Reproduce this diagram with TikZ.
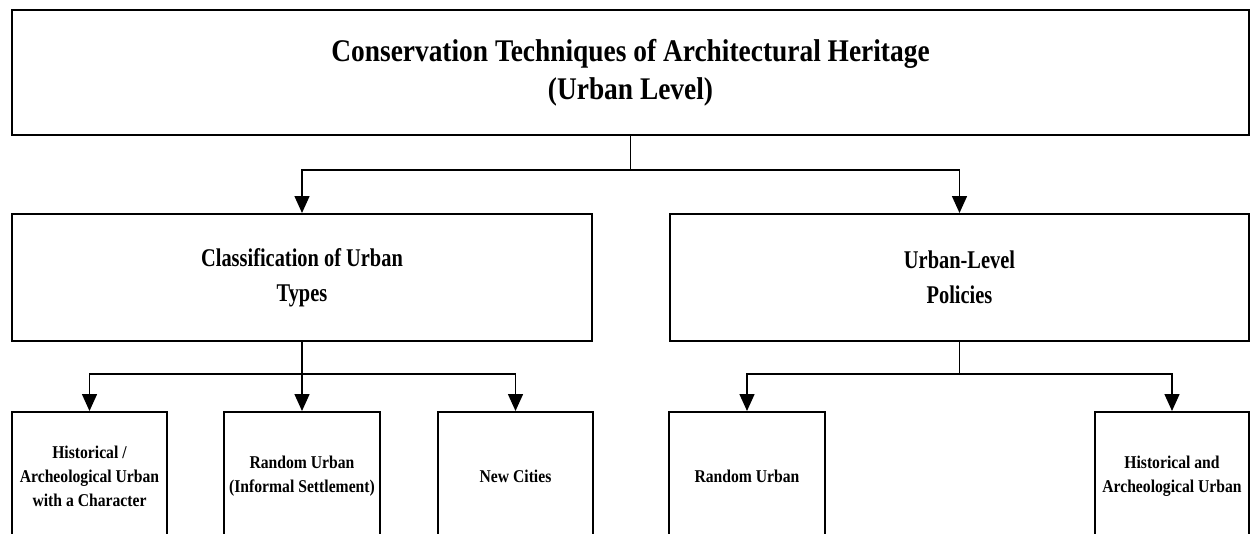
\documentclass[tikz,border=0pt]{standalone}
\usepackage{fontspec}
\setmainfont{Liberation Serif}
\newfontfamily\headfont[FakeStretch=0.87]{Liberation Serif}
\newfontfamily\midfont[FakeStretch=0.8]{Liberation Serif}
\usetikzlibrary{arrows.meta}
\tikzset{
  mainbox/.style={draw,line width=2pt,align=center,inner sep=0pt},
  midbox/.style={mainbox,minimum height=127pt,
    font=\midfont\bfseries\fontsize{25.5}{35}\selectfont},
  leafbox/.style={mainbox,anchor=north,minimum width=155pt,minimum height=128pt,
    font=\headfont\bfseries\fontsize{18}{24}\selectfont},
  link/.style={line width=1.5pt},
  arrow/.style={link,-{Triangle[length=17pt,width=15pt]}}
}

\begin{document}
\begin{tikzpicture}[x=1pt,y=-1pt]

    % Define the rows (measured from the top edge)
    \def\ybarone{170}   % bar below the top box
    \def\ybartwo{374}   % bars below the second row
    \def\yleaf{411}     % top of the third row

    \useasboundingbox (0,0) rectangle (1250,533);
    \clip (0,0) rectangle (1250,533);

    % -- Top box --
    \node[mainbox,minimum width=1237pt,minimum height=125pt,
      font=\headfont\bfseries\fontsize{31.5}{38}\selectfont] (heritage) at (630.5,72.5)
      {Conservation Techniques of Architectural Heritage\\(Urban Level)};

    % -- Second row --
    \node[midbox,minimum width=580pt] (urbtypes) at (302,277.5) {Classification of Urban\\Types};
    \node[midbox,minimum width=579pt] (policies) at (959.5,277.5) {Urban-Level\\Policies};

    % -- Third row (cut off by the lower edge) --
    \node[leafbox] (histchar) at (89.5,\yleaf) {Historical /\\Archeological Urban\\with a Character};
    \node[leafbox,minimum width=156pt] (informal) at (302,\yleaf) {Random Urban\\(Informal Settlement)};
    \node[leafbox] (newcity) at (515.5,\yleaf) {New Cities};
    \node[leafbox,minimum width=156pt] (randurb) at (747,\yleaf) {Random Urban};
    \node[leafbox,minimum width=154pt] (histarch) at (1172,\yleaf) {Historical and\\Archeological Urban};

    % -- Bars --
    \coordinate (barone) at (0,\ybarone);
    \coordinate (bartwo) at (0,\ybartwo);

    % -- Connectors --
    \draw[arrow] (heritage.south) -- (heritage.south |- barone) -| (urbtypes.north);
    \draw[arrow] (heritage.south) -- (heritage.south |- barone) -| (policies.north);

    \draw[arrow] (urbtypes.south) -- (urbtypes.south |- bartwo) -| (histchar.north);
    \draw[arrow] (urbtypes.south) -- (informal.north);
    \draw[arrow] (urbtypes.south) -- (urbtypes.south |- bartwo) -| (newcity.north);

    \draw[arrow] (policies.south) -- (policies.south |- bartwo) -| (randurb.north);
    \draw[arrow] (policies.south) -- (policies.south |- bartwo) -| (histarch.north);

\end{tikzpicture}
\end{document}
